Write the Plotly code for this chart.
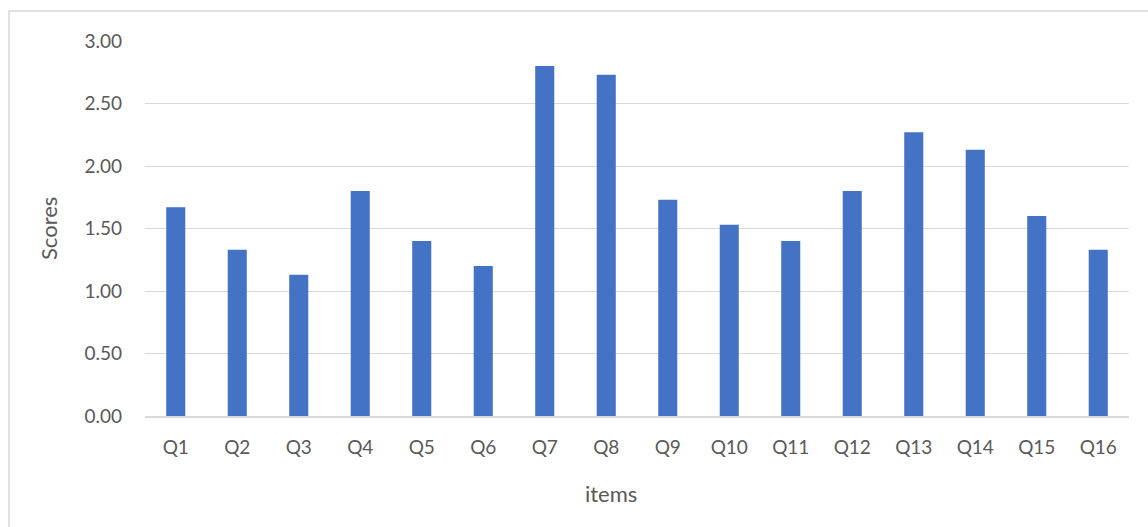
import plotly.graph_objects as go

categories = ["Q1", "Q2", "Q3", "Q4", "Q5", "Q6", "Q7", "Q8",
              "Q9", "Q10", "Q11", "Q12", "Q13", "Q14", "Q15", "Q16"]
scores = [1.67, 1.33, 1.13, 1.80, 1.40, 1.20, 2.80, 2.73,
          1.73, 1.53, 1.40, 1.80, 2.27, 2.13, 1.60, 1.33]
y_ticks = [0, 0.5, 1.0, 1.5, 2.0, 2.5, 3.0]

font_family = "Lato, 'Open Sans', sans-serif"
text_color = "#595959"

fig = go.Figure(go.Bar(x=categories, y=scores, marker_color="#4472C4",
                       marker_line_width=0, width=0.31))

fig.update_layout(
    width=1148, height=527,
    margin=dict(l=145, r=19, t=41, b=111),
    paper_bgcolor="white", plot_bgcolor="white",
    font=dict(family=font_family, size=19, color=text_color),
    showlegend=False,
    bargap=0.69,
)
fig.update_xaxes(
    showgrid=False, showline=True, linecolor="#d9d9d9", linewidth=2,
    ticks="", ticklabelstandoff=13, tickfont=dict(size=19, color=text_color),
)
fig.update_yaxes(
    range=[0, 3.0], tickvals=y_ticks, tickformat=".2f",
    showgrid=True, gridcolor="#d9d9d9", gridwidth=1,
    zeroline=False, showline=False, ticks="", ticklabelstandoff=22,
    tickfont=dict(size=19, color=text_color),
)
# axis titles
fig.add_annotation(text="Scores", xref="paper", yref="paper",
                   x=-97/984, y=(416 - 229) / 375, textangle=-90,
                   showarrow=False, xanchor="center", yanchor="middle",
                   font=dict(size=22, color=text_color))
fig.add_annotation(text="items", xref="paper", yref="paper",
                   x=(611 - 145) / 984, y=-(493 - 416) / 375,
                   showarrow=False, xanchor="center", yanchor="middle",
                   font=dict(size=22, color=text_color))
fig.add_shape(type="rect", xref="paper", yref="paper",
              x0=-136/984, x1=1.05, y0=-0.5, y1=1 + 30/375,
              line=dict(color="#d9d9d9", width=1.5), fillcolor="rgba(0,0,0,0)",
              layer="below")

fig.write_html("out.html")
